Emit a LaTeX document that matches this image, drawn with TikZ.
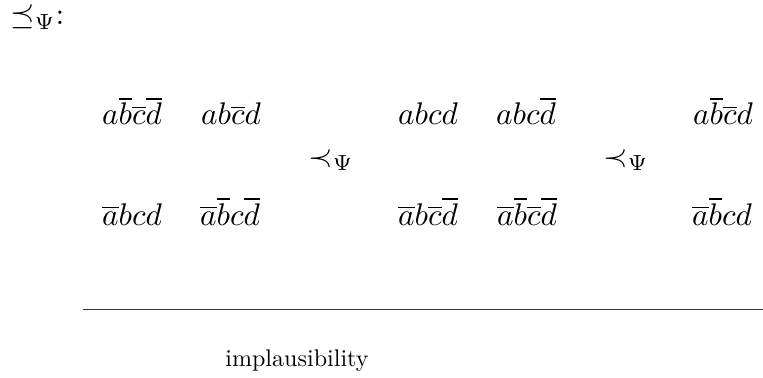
\documentclass[tikz,border=0pt]{standalone}
\usetikzlibrary{arrows.meta}
\tikzset{
  world/.style={anchor=base, inner sep=0pt, outer sep=0pt, scale=1.3, transform shape},
  rel/.style={anchor=base, inner sep=0pt, outer sep=0pt, scale=1.3, transform shape},
  lbl/.style={anchor=base, inner sep=0pt, outer sep=0pt, scale=1.0, transform shape},
  axis/.style={line width=0.5pt, draw=black!80},
}
\begin{document}
\begin{tikzpicture}[x=0.4155pt, y=-0.4155pt]
\useasboundingbox (0,0) rectangle (763,378);
\node[anchor=base west, inner sep=0pt, scale=1.3, transform shape] (title) at (10,25) {$\preceq_\Psi$:};
% row 1
\node[world] (w1) at (132,125) {$a\overline{b}\overline{c}\overline{d}$};
\node[world] (w2) at (231,125) {$ab\overline{c}d$};
\node[world] (w3) at (428,125) {$abcd$};
\node[world] (w4) at (526,125) {$abc\overline{d}$};
\node[world] (w5) at (723,125) {$a\overline{b}\overline{c}d$};
% row 2
\node[world] (v1) at (132,225) {$\overline{a}bcd$};
\node[world] (v2) at (230,225) {$\overline{a}\overline{b}c\overline{d}$};
\node[world] (v3) at (428,225) {$\overline{a}b\overline{c}\overline{d}$};
\node[world] (v4) at (527,225) {$\overline{a}\overline{b}\overline{c}\overline{d}$};
\node[world] (v5) at (722,225) {$\overline{a}\overline{b}cd$};
% relations
\node[rel] (r1) at (331,166) {$\prec_\Psi$};
\node[rel] (r2) at (626,166) {$\prec_\Psi$};
% axis
\coordinate (a0) at (83,309.5);
\coordinate (a1) at (763,309.5);
\draw[axis] (a0) -- (a1);
\node[lbl] (lab) at (297,366) {implausibility};
\end{tikzpicture}
\end{document}
